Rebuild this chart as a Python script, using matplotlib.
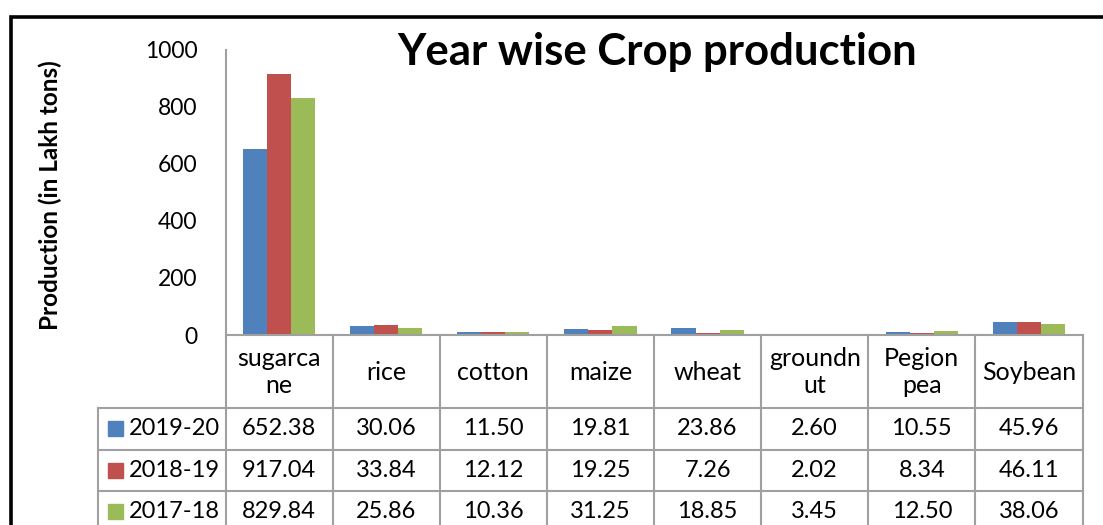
import matplotlib
matplotlib.use("Agg")
import matplotlib.pyplot as plt
import numpy as np
from matplotlib.transforms import blended_transform_factory
from matplotlib.patches import Rectangle
from matplotlib.lines import Line2D

categories = ["sugarca\nne", "rice", "cotton", "maize", "wheat", "groundn\nut", "Pegion\npea", "Soybean"]
series_names = ["2019-20", "2018-19", "2017-18"]
v_2019_20 = [652.38, 30.06, 11.50, 19.81, 23.86, 2.60, 10.55, 45.96]
v_2018_19 = [917.04, 33.84, 12.12, 19.25, 7.26, 2.02, 8.34, 46.11]
v_2017_18 = [829.84, 25.86, 10.36, 31.25, 18.85, 3.45, 12.50, 38.06]
series_values = [v_2019_20, v_2018_19, v_2017_18]
colors = ["#4F81BD", "#C0504D", "#9BBB59"]
yticks = [0, 200, 400, 600, 800, 1000]

FONT = "Lato"
W, H = 1103, 525
fig = plt.figure(figsize=(W / 100, H / 100), dpi=100)

def fy(py):
    return 1 - py / H

def fx(px):
    return px / W

ax = fig.add_axes([fx(225.5), fy(335), fx(1082.5) - fx(225.5), fy(50) - fy(335)])
n = len(categories)
x = np.arange(n)
bw = 0.225
for i, (vals, c) in enumerate(zip(series_values, colors)):
    ax.bar(x + (i - 1) * bw, vals, width=bw, color=c, zorder=2)
ax.set_xlim(-0.5, n - 0.5)
ax.set_ylim(0, 1000)
ax.set_yticks(yticks)
ax.set_yticklabels([str(t) for t in yticks], fontsize=16.5, family=FONT)
ax.tick_params(axis="y", length=0, pad=20)
ax.set_xticks([])
for s in ["top", "right"]:
    ax.spines[s].set_visible(False)
for s in ["left", "bottom"]:
    ax.spines[s].set_color("#a0a0a0")
    ax.spines[s].set_linewidth(1.5)
ax.patch.set_alpha(0)

# title and y label
fig.text(fx(657), fy(52), "Year wise Crop production", ha="center", va="center",
         fontsize=31.5, fontweight="bold", family=FONT)
fig.text(fx(50), fy(195), "Production (in Lakh tons)", ha="center", va="center",
         rotation=90, fontsize=17.5, fontweight="bold", family=FONT)

# data table
tr = blended_transform_factory(ax.transData, fig.transFigure)
gray = "#a0a0a0"
row_tops = [408, 449.5, 491, 532]
for k in range(n + 1):
    fig.add_artist(Line2D([k - 0.5, k - 0.5], [fy(335), fy(530)], transform=tr,
                          color=gray, lw=1.5))
fig.add_artist(Line2D([fx(98), fx(98)], [fy(408), fy(530)], transform=fig.transFigure,
                      color=gray, lw=1.5))
for yt in row_tops[:3]:
    fig.add_artist(Line2D([fx(98), fx(1082.5)], [fy(yt), fy(yt)], transform=fig.transFigure,
                          color=gray, lw=1.5))

# header texts
for k, cat in enumerate(categories):
    fig.text(k, fy(372), cat, transform=tr, ha="center", va="center",
             fontsize=18, family=FONT, linespacing=1.2)

# rows
for r, (name, vals, c) in enumerate(zip(series_names, series_values, colors)):
    yc = (row_tops[r] + row_tops[r + 1]) / 2
    fig.add_artist(Rectangle((fx(108), fy(yc + 7.5)), fx(15), 15 / H,
                             transform=fig.transFigure, color=c))
    fig.text(fx(129), fy(yc), name, ha="left", va="center", fontsize=17, family=FONT)
    for k, v in enumerate(vals):
        fig.text(k, fy(yc), f"{v:.2f}", transform=tr, ha="center", va="center",
                 fontsize=17, family=FONT)

# outer border
fig.add_artist(Rectangle((fx(10.5), fy(560)), fx(1200), (560 - 16.5) / H,
                         transform=fig.transFigure, fill=False, ec="black", lw=2.6))

fig.savefig("out.png", dpi=100)
